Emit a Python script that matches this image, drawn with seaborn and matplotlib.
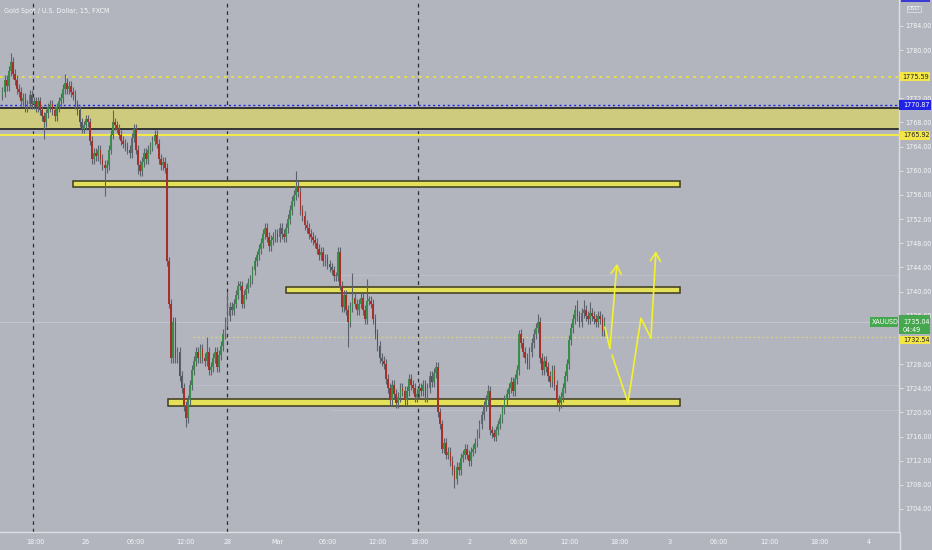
import matplotlib
matplotlib.use("Agg")
import matplotlib.pyplot as plt
from matplotlib import font_manager
from matplotlib.patches import Rectangle
from matplotlib.lines import Line2D
import numpy as np
import pandas as pd
import seaborn as sns

# ---------------- data ----------------
title = "Gold Spot / U.S. Dollar, 15, FXCM"
first_open = 1772.5
closes = [
    1773.0, 1775.0, 1774.0, 1776.5, 1778.0, 1776.0, 1775.0, 1773.5, 1773.0, 1771.5,
    1772.0, 1770.5, 1771.0, 1772.5, 1771.0, 1771.5, 1770.5, 1771.5, 1770.0, 1769.0,
    1768.0, 1769.5, 1770.5, 1771.0, 1770.0, 1769.0, 1770.5, 1771.5, 1772.0, 1773.5,
    1774.5, 1773.5, 1774.0, 1773.0, 1772.5, 1771.0, 1770.0, 1768.0, 1767.0, 1767.5,
    1768.5, 1768.0, 1765.0, 1762.0, 1763.0, 1762.5, 1763.5, 1762.0, 1761.0, 1760.5,
    1761.0, 1763.5, 1766.0, 1768.0, 1767.5, 1767.0, 1766.0, 1765.0, 1764.5, 1764.0,
    1763.5, 1763.0, 1765.5, 1767.0, 1763.5, 1761.0, 1760.0, 1761.5, 1763.0, 1762.0,
    1763.5, 1764.0, 1765.0, 1766.0, 1764.5, 1762.0, 1761.0, 1761.5, 1760.5, 1745.0,
    1738.0, 1729.0, 1735.0, 1729.0, 1730.0, 1726.0, 1724.0, 1721.0, 1719.0, 1722.0,
    1724.5, 1727.0, 1728.5, 1730.0, 1729.0, 1730.5, 1729.0, 1728.5, 1730.0, 1727.0,
    1727.5, 1729.0, 1730.0, 1727.5, 1729.5, 1731.0, 1733.0, 1735.0, 1736.0, 1737.5,
    1737.0, 1738.0, 1739.5, 1741.0, 1741.0, 1738.0, 1739.5, 1740.5, 1741.5, 1742.0,
    1743.5, 1745.0, 1746.0, 1747.0, 1748.0, 1749.5, 1750.5, 1749.0, 1747.5, 1748.5,
    1749.0, 1749.5, 1749.0, 1750.5, 1749.5, 1749.0, 1750.5, 1752.0, 1753.5, 1755.0,
    1756.0, 1757.5, 1756.5, 1753.5, 1752.5, 1751.0, 1750.5, 1749.5, 1749.0, 1748.5,
    1748.0, 1747.0, 1746.0, 1746.5, 1745.0, 1745.5, 1744.5, 1744.0, 1743.5, 1742.5,
    1742.5, 1746.5, 1741.0, 1737.5, 1739.5, 1737.0, 1735.0, 1737.5, 1739.0, 1738.0,
    1737.0, 1738.0, 1739.0, 1737.0, 1735.5, 1738.5, 1738.5, 1738.0, 1735.5, 1733.0,
    1731.0, 1729.0, 1728.5, 1728.0, 1725.5, 1724.0, 1722.0, 1724.5, 1723.0, 1721.5,
    1722.5, 1724.0, 1723.5, 1722.0, 1723.5, 1725.5, 1724.5, 1724.0, 1722.5, 1723.0,
    1724.0, 1723.5, 1724.5, 1722.5, 1724.0, 1726.0, 1725.0, 1726.5, 1727.5, 1720.0,
    1718.0, 1714.0, 1715.0, 1713.0, 1713.5, 1712.0, 1710.5, 1709.0, 1711.0, 1710.5,
    1712.5, 1713.0, 1714.0, 1713.0, 1712.0, 1713.5, 1714.0, 1715.0, 1716.5, 1718.0,
    1719.5, 1721.0, 1722.0, 1723.5, 1717.0, 1716.5, 1716.0, 1717.0, 1718.0, 1719.0,
    1720.5, 1722.0, 1723.0, 1724.0, 1725.0, 1723.5, 1725.5, 1727.0, 1733.0, 1731.5,
    1730.0, 1729.0, 1728.0, 1730.0, 1731.5, 1733.0, 1734.0, 1735.0, 1729.0, 1727.0,
    1728.5, 1727.5, 1726.0, 1725.0, 1727.0, 1724.5, 1722.0, 1721.5, 1722.5, 1724.0,
    1726.0, 1728.0, 1732.0, 1734.0, 1735.5, 1737.0, 1736.0, 1735.0, 1736.5, 1737.0,
    1736.0, 1735.5, 1736.5, 1736.0, 1735.5, 1735.0, 1736.0, 1735.5, 1733.5, 1735.04,
]
wick_default = 0.8
special_high = {4: 1779.5, 30: 1776.0, 53: 1770.0, 98: 1732.5, 108: 1740.0,
                126: 1751.3, 141: 1760.0, 161: 1747.4, 168: 1743.0, 175: 1742.0,
                208: 1728.4, 233: 1724.5, 248: 1733.7, 257: 1736.3,
                276: 1738.6, 279: 1738.6, 282: 1738.3}
special_low = {20: 1765.2, 49: 1755.8, 65: 1759.5, 88: 1717.5, 166: 1730.8,
               217: 1707.5, 267: 1720.3}

tick_pos = [16, 40, 64, 88, 108, 132, 156, 180, 200, 224, 248, 272, 296, 320, 344, 368, 392, 416]
tick_lab = ["18:00", "26", "06:00", "12:00", "28", "Mar", "06:00", "12:00", "18:00",
            "2", "06:00", "12:00", "18:00", "3", "06:00", "12:00", "18:00", "4"]
session_breaks = [14.6, 107.6, 199.6]
price_ticks = list(range(1704, 1788, 4))
hidden_ticks = [1776, 1732]

level_top = 1775.59
level_blue = 1770.87
level_low = 1765.92
last_price = 1735.04
prev_close = 1732.54
countdown = "04:49"
symbol = "XAUUSD"
zone_main = (1766.9, 1770.4)
zones = [  # (x start bar, x end bar, price low, price high)
    (33.8, 325.2, 1757.35, 1758.25),
    (136.1, 325.2, 1739.75, 1740.7),
    (79.6, 325.2, 1721.0, 1722.2),
]
faint_levels = [(157, 1742.7), (90, 1724.5), (157, 1720.4)]
arrow_a_x = [289.2, 291.6, 295.0]
arrow_a_y = [1734.1, 1730.6, 1744.6]
arrow_b_x = [292.6, 300.3, 306.5, 311.3, 313.7]
arrow_b_y = [1729.5, 1721.6, 1735.6, 1732.3, 1746.7]

# ---------------- style ----------------
sns.set_theme(style="white")
names = {f.name for f in font_manager.fontManager.ttflist}
if "Liberation Sans Narrow" in names:
    plt.rcParams["font.family"] = ["Liberation Sans Narrow", "DejaVu Sans"]
    FS = 6.0
else:
    plt.rcParams["font.family"] = ["DejaVu Sans"]
    plt.rcParams["font.stretch"] = "condensed"
    FS = 5.1

BG = "#b2b5bd"
TXT = "#f6f7fa"
AXC = "#dcdee4"
W, H = 932, 550
XMIN, XMAX = -1.2, 430.4
YMIN, YMAX = 1700.19, 1788.28

fig = plt.figure(figsize=(W / 100, H / 100), dpi=100, facecolor=BG)
ax = fig.add_axes([0, 18 / H, 899 / W, 532 / H])
ax.set_facecolor(BG)
ax.set_xlim(XMIN, XMAX)
ax.set_ylim(YMIN, YMAX)

# candles
df = pd.DataFrame({"close": closes})
df["open"] = [first_open] + closes[:-1]
df["idx"] = np.arange(len(df))
df["high"] = df[["open", "close"]].max(axis=1) + wick_default
df["low"] = df[["open", "close"]].min(axis=1) - wick_default
for k, v in special_high.items():
    df.loc[k, "high"] = v
for k, v in special_low.items():
    df.loc[k, "low"] = v
df["up"] = df["close"] >= df["open"]
GREEN, RED, WICK = "#3a8c4b", "#a5302a", "#5d636d"
ax.vlines(df["idx"], df["low"], df["high"], color=WICK, lw=0.8, zorder=3)
body = (df["close"] - df["open"]).abs().clip(lower=0.2)
bottom = df[["open", "close"]].min(axis=1)
ax.bar(df["idx"], body, bottom=bottom, width=0.8,
       color=np.where(df["up"], GREEN, RED), linewidth=0, zorder=4)

# levels and zones
for x0, p in faint_levels:
    ax.plot([x0, XMAX], [p, p], color="#bdc0c8", lw=0.7, zorder=1)
ax.axhline(last_price, color="#c3c6cd", lw=0.8, zorder=1)
ax.plot([91.5, XMAX], [prev_close, prev_close], color="#d9d585", lw=0.9,
        ls=(0, (1.5, 2)), zorder=2)
ax.axhline(level_top, color="#ece43a", lw=1.3, ls=(0, (1.5, 2.5)), zorder=2)
ax.axhline(level_blue, color="#1a22e8", lw=1.0, ls=(0, (1.5, 2)), zorder=2)
ax.add_patch(Rectangle((XMIN - 5, zone_main[0]), XMAX - XMIN + 10, zone_main[1] - zone_main[0],
                       facecolor="#cecb7e", edgecolor="#1e1e1e", lw=1.2, zorder=1.5))
ax.axhline(level_low, color="#f2e84a", lw=1.5, zorder=2)
for x0, x1, p0, p1 in zones:
    ax.add_patch(Rectangle((x0, p0), x1 - x0, p1 - p0, facecolor="#e4e05a",
                           edgecolor="#3b3a1e", lw=1.1, zorder=2.5))
for xb in session_breaks:
    ax.axvline(xb, color="#2e2f33", lw=0.9, ls=(0, (3, 3)), zorder=1)

# projection arrows
ARW = "#f4f032"
sns.lineplot(x=arrow_a_x[:-1], y=arrow_a_y[:-1], sort=False, color=ARW, lw=1.2, ax=ax, zorder=6)
sns.lineplot(x=arrow_b_x[:-1], y=arrow_b_y[:-1], sort=False, color=ARW, lw=1.2, ax=ax, zorder=6)
for xs, ys in [(arrow_a_x, arrow_a_y), (arrow_b_x, arrow_b_y)]:
    ax.annotate("", xy=(xs[-1], ys[-1]), xytext=(xs[-2], ys[-2]),
                arrowprops=dict(arrowstyle="->,head_length=0.5,head_width=0.3",
                                color=ARW, lw=1.2, shrinkA=0, shrinkB=0), zorder=6)

# axes
for s in ["top", "left"]:
    ax.spines[s].set_visible(False)
for s in ["right", "bottom"]:
    ax.spines[s].set_color(AXC)
    ax.spines[s].set_linewidth(1.0)
ax.yaxis.tick_right()
ax.set_yticks(price_ticks)
ax.set_yticklabels(["" if v in hidden_ticks else f"{v:.2f}" for v in price_ticks])
ax.set_xticks(tick_pos)
ax.set_xticklabels(tick_lab)
ax.tick_params(axis="both", colors=AXC, labelcolor=TXT, labelsize=FS, length=3, width=0.8,
               direction="out", pad=2)
ax.tick_params(axis="y", pad=1.5)
ax.grid(False)
fig.lines.append(Line2D([899.5 / W, 899.5 / W], [0, 18 / H], transform=fig.transFigure,
                        color=AXC, lw=1.0))

def py(p):
    return 50 + (1780 - p) * 6.04

def box(x0, x1, yc, h, fc, text, tc):
    fig.patches.append(Rectangle((x0 / W, 1 - (yc + h / 2) / H), (x1 - x0) / W, h / H,
                                 transform=fig.transFigure, facecolor=fc, edgecolor="none",
                                 zorder=8))
    fig.text((x0 + x1) / 2 / W + 1.5 / W, 1 - yc / H, text, color=tc, fontsize=FS,
             ha="center", va="center", zorder=9)

box(899, 930, py(level_top), 9, "#f3e646", f"{level_top:.2f}", "#222222")
box(899, 931, py(level_blue), 9.5, "#2222e6", f"{level_blue:.2f}", "#ffffff")
box(899, 930, py(level_low), 9, "#f3e646", f"{level_low:.2f}", "#222222")
box(870, 898, py(last_price), 10, "#45a84e", symbol, "#ffffff")
fig.patches.append(Rectangle((899 / W, 1 - 334 / H), 31 / W, 19 / H, transform=fig.transFigure,
                             facecolor="#45a84e", edgecolor="none", zorder=8))
fig.text(916 / W, 1 - py(last_price) / H, f"{last_price:.2f}", color="#ffffff", fontsize=FS,
         ha="center", va="center", zorder=9)
fig.text(912 / W, 1 - 329.5 / H, countdown, color="#ffffff", fontsize=FS,
         ha="center", va="center", zorder=9)
box(899, 930, 340, 8.5, "#f3e646", f"{prev_close:.2f}", "#222222")
# USD label
fig.text(914 / W, 1 - 9 / H, "USD", color=TXT, fontsize=FS - 0.6, ha="center", va="center",
         zorder=9, bbox=dict(boxstyle="square,pad=0.15", fc="none", ec=AXC, lw=0.6))
fig.patches.append(Rectangle((901 / W, 1 - 2 / H), 29 / W, 2 / H, transform=fig.transFigure,
                             facecolor="#3a3ad8", edgecolor="none", zorder=8))

fig.text(4 / W, 1 - 11 / H, title, color=TXT, fontsize=FS, ha="left", va="center")

fig.savefig("out.png", dpi=100, facecolor=BG)
